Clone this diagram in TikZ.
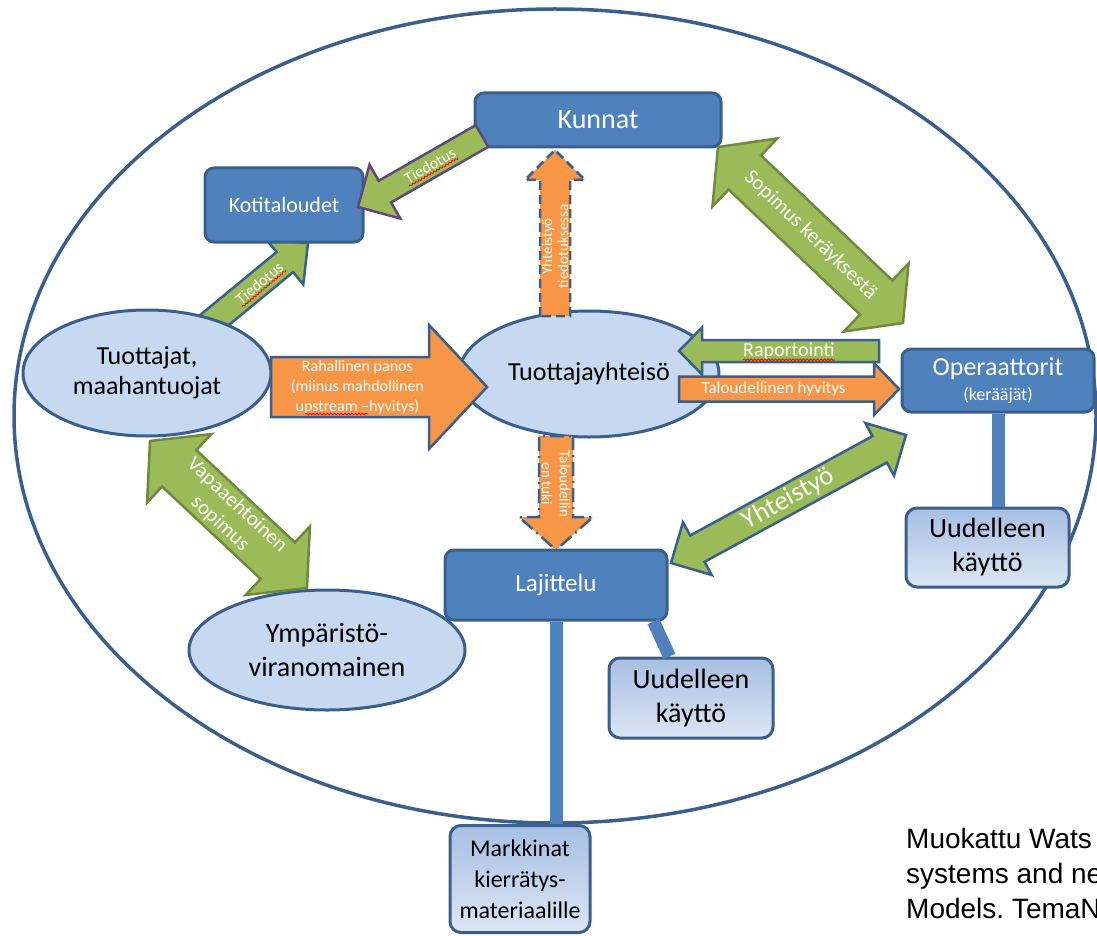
\documentclass[tikz,border=0pt]{standalone}
\usepackage{fontspec}
\setmainfont{Carlito}
\newfontfamily\notefont{Liberation Sans}
\usetikzlibrary{calc,shapes.geometric,decorations.pathmorphing}
\frenchspacing

\definecolor{boxblue}{HTML}{4F81BD}
\definecolor{edgeblue}{HTML}{3A5F8C}
\definecolor{paleblue}{HTML}{C6D9F1}
\definecolor{leafgreen}{HTML}{9BBB59}
\definecolor{darkgreen}{HTML}{71893F}
\definecolor{peach}{HTML}{F79646}
\definecolor{plum}{HTML}{5F497A}
\definecolor{gradtop}{HTML}{A7BFE3}
\definecolor{gradbot}{HTML}{DCE6F4}

\newcommand{\fs}[2]{\fontsize{#1}{#2}\selectfont}
% block arrow: style, from, to, half shaft, half head, head length
\newcommand{\blockarr}[6]{%
  \draw[#1] ($(#2)!#4pt!90:(#3)$) -- ($(#3)!#6pt!(#2)!#4pt!270:(#2)$)
    -- ($(#3)!#6pt!(#2)!#5pt!270:(#2)$) -- (#3)
    -- ($(#3)!#6pt!(#2)!#5pt!90:(#2)$) -- ($(#3)!#6pt!(#2)!#4pt!90:(#2)$)
    -- ($(#2)!#4pt!270:(#3)$) -- cycle;}
\newcommand{\dblockarr}[6]{%
  \draw[#1] (#2) -- ($(#2)!#6pt!(#3)!#5pt!90:(#3)$) -- ($(#2)!#6pt!(#3)!#4pt!90:(#3)$)
    -- ($(#3)!#6pt!(#2)!#4pt!270:(#2)$) -- ($(#3)!#6pt!(#2)!#5pt!270:(#2)$) -- (#3)
    -- ($(#3)!#6pt!(#2)!#5pt!90:(#2)$) -- ($(#3)!#6pt!(#2)!#4pt!90:(#2)$)
    -- ($(#2)!#6pt!(#3)!#4pt!270:(#3)$) -- ($(#2)!#6pt!(#3)!#5pt!270:(#3)$) -- cycle;}

\tikzset{
  darkbox/.style={draw=edgeblue, line width=3pt, fill=boxblue, rounded corners=9pt, text=white, align=center, inner sep=0pt},
  lightbox/.style={draw=edgeblue, line width=3pt, top color=gradtop, bottom color=gradbot, rounded corners=11pt, align=center, inner sep=0pt},
  bubble/.style={ellipse, draw=edgeblue, line width=3pt, fill=paleblue, align=center, inner sep=0pt},
  greenarr/.style={fill=leafgreen, draw=darkgreen, line width=2.5pt, line join=miter},
  orangearr/.style={fill=peach, draw=edgeblue, line width=2.5pt, line join=miter},
  lbl/.style={text=white, inner sep=0pt, align=center},
  stalk/.style={draw=boxblue, line width=13pt},
  squig/.style={draw=red, line width=.8pt, decorate, decoration={snake, amplitude=.9pt, segment length=3.5pt}}
}

\begin{document}
\begin{tikzpicture}[x=1pt, y=-1pt, line join=round]
\useasboundingbox (0,0) rectangle (1097,936);
\clip (0,0) rectangle (1097,936);
\draw[edgeblue, line width=3.5pt] (555,416) ellipse [x radius=541pt, y radius=407pt];

\coordinate (a1s) at (482,136); \coordinate (a1e) at (358,207);
\coordinate (a2s) at (200,332); \coordinate (a2e) at (308,243);
\coordinate (a3s) at (555,316); \coordinate (a3e) at (555,150);
\coordinate (a4s) at (556,436); \coordinate (a4e) at (556,550);
\coordinate (a5s) at (271,387); \coordinate (a5e) at (487,387);
\coordinate (a6s) at (879,351); \coordinate (a6e) at (679,351);
\coordinate (a7s) at (679,389); \coordinate (a7e) at (899,389);
\coordinate (a8s) at (718,147); \coordinate (a8e) at (903,323);
\coordinate (a9s) at (671,563); \coordinate (a9e) at (906,435);
\coordinate (a10s) at (150,441); \coordinate (a10e) at (307,588);

\blockarr{greenarr, draw=edgeblue}{a2s}{a2e}{13}{29}{30}
\node[lbl, rotate=40, font=\fs{16}{18}] (tie2) at ($(a2s)!.55!(a2e)$) {Tiedotus};
\draw[squig] ($(tie2.south west)!1.5pt!270:(tie2.south east)$) -- ($(tie2.south east)!1.5pt!90:(tie2.south west)$);

\node[darkbox, minimum width=246pt, minimum height=54pt, font=\fs{28}{32}] (kunnat) at (598,120) {Kunnat};
\node[darkbox, minimum width=158pt, minimum height=74pt, font=\fs{22}{26}] (koti) at (284,205) {Kotitaloudet};
\node[bubble, minimum width=248pt, minimum height=126pt, font=\fs{26}{30}] (tuott) at (147,373) {Tuottajat,\\maahantuojat};
\node[bubble, minimum width=260pt, minimum height=126pt, font=\fs{26}{30}] (yhteiso) at (589,374) {Tuottajayhteisö};
\node[darkbox, minimum width=192pt, minimum height=63pt] (oper) at (998,380.5) {\fs{26}{26}Operaattorit\\[6pt]\fs{18}{26}(kerääjät)};
\node[lightbox, minimum width=163pt, minimum height=79pt, font=\fs{28}{34}] (reuseA) at (987.5,547.5) {Uudelleen\\käyttö};
\node[darkbox, minimum width=222pt, minimum height=70pt, font=\fs{25}{30}] (lajit) at (556,585) {Lajittelu};
\node[lightbox, minimum width=164pt, minimum height=80pt, font=\fs{28}{34}] (reuseB) at (691,698) {Uudelleen\\käyttö};
\node[bubble, minimum width=276pt, minimum height=120pt, font=\fs{28}{34}] (ymp) at (327,650) {Ympäristö-\\viranomainen};
\node[lightbox, minimum width=140pt, minimum height=107pt, font=\fs{24}{31}] (markk) at (520,879) {Markkinat\\kierrätys-\\materiaalille};

\draw[stalk] (oper.south) -- (oper.south |- reuseA.north);
\draw[stalk] (lajit.south) -- (lajit.south |- markk.north);
\draw[stalk] ([xshift=-15pt]lajit.south east) -- ([xshift=62pt]reuseB.north west);

\blockarr{greenarr, draw=plum}{a1s}{a1e}{12.5}{31}{31}
\node[lbl, rotate=30, font=\fs{16}{18}] (tie1) at ($(a1s)!.42!(a1e)$) {Tiedotus};
\draw[squig] ($(tie1.south west)!1.5pt!270:(tie1.south east)$) -- ($(tie1.south east)!1.5pt!90:(tie1.south west)$);

\blockarr{orangearr, dash pattern=on 9pt off 5pt}{a3s}{a3e}{15}{30}{30}
\node[lbl, rotate=90, font=\fs{15}{16}] (yti) at ($(a3s)!.42!(a3e)$) {Yhteistyö\\tiedotuksessa};

\blockarr{orangearr, dash pattern=on 14pt off 5pt on 2pt off 5pt}{a4s}{a4e}{17}{37}{33}
\node[lbl, rotate=-90, font=\fs{15}{18}] (tuki) at ($(a4s)!.42!(a4e)$) {Taloudellin\\en tuki};

\blockarr{orangearr}{a5s}{a5e}{30}{62}{58}
\node[lbl, font=\fs{16}{20}] (rah) at ($(a5s)!.4!(a5e)$) {Rahallinen panos\\(miinus mahdollinen\\upstream –hyvitys)};
\draw[squig] ($(rah.south west)!.11!(rah.south east)$) -- ($(rah.south west)!.58!(rah.south east)$);

\blockarr{greenarr, draw=edgeblue}{a6s}{a6e}{11}{23.5}{23}
\node[lbl, font=\fs{20}{22}] (rap) at ($(a6s)!.45!(a6e)$) {Raportointi};
\draw[squig] (rap.south west) -- (rap.south east);

\blockarr{orangearr}{a7s}{a7e}{12.5}{26}{25}
\node[lbl, font=\fs{17}{20}] (hyv) at ($(a7s)!.43!(a7e)$) {Taloudellinen hyvitys};

\dblockarr{greenarr}{a8s}{a8e}{23.5}{47}{37}
\node[lbl, rotate=-44, font=\fs{21}{24}] (sop) at ($(a8s)!.5!(a8e)$) {Sopimus keräyksestä};

\dblockarr{greenarr, draw=edgeblue}{a9s}{a9e}{15}{30}{30}
\node[lbl, rotate=29, font=\fs{27}{30}] (yht) at ($(a9s)!.5!(a9e)$) {Yhteistyö};

\dblockarr{greenarr}{a10s}{a10e}{25}{47}{40}
\node[lbl, rotate=-43, font=\fs{21}{25}] (vap) at ($(a10s)!.5!(a10e)$) {Vapaaehtoinen\\sopimus};

\node[anchor=north west, inner sep=0pt, align=left, font=\notefont\fs{28}{35}] (note) at (906,828) {Muokattu Wats\\systems and ne\\Models. TemaN};
\end{tikzpicture}
\end{document}
